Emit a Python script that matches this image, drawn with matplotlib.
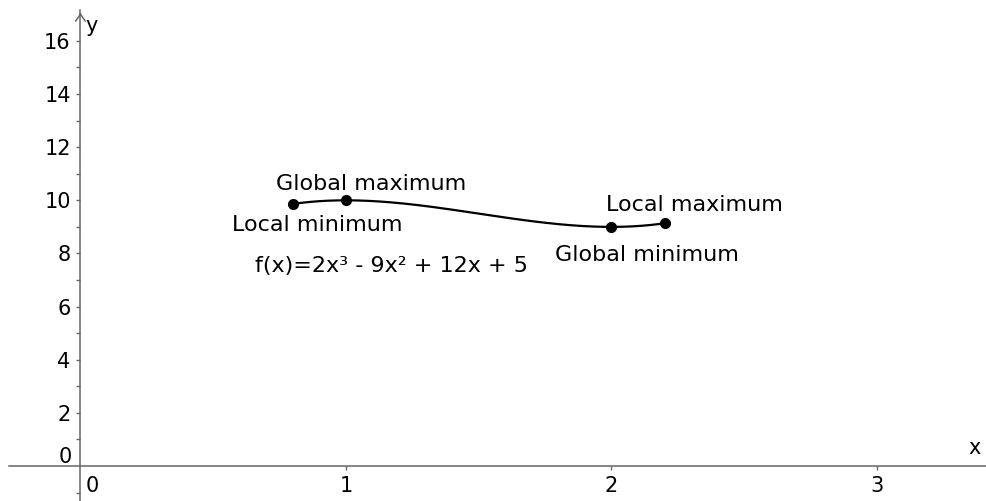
import numpy as np
import matplotlib.pyplot as plt

# f(x) = 2x^3 - 9x^2 + 12x + 5 on [0.8, 2.2]
coeffs = [2, -9, 12, 5]
domain = (0.8, 2.2)
point_x = [0.8, 1.0, 2.0, 2.2]
point_labels = ["Local minimum", "Global maximum", "Global minimum", "Local maximum"]
# label offsets in pixels (dx, dy) from each point, baseline aligned
label_offsets = [(24, -27), (25, 10), (36, -34), (30, 12)]

x_major = [1, 2, 3]
y_major = [2, 4, 6, 8, 10, 12, 14, 16]
y_minor = [-1, 1, 3, 5, 7, 9, 11, 13, 15]

axis_color = "#666666"
fs = 16
tick_fs = 15

fig = plt.figure(figsize=(9.86, 5.01), dpi=100)
ax = fig.add_axes([0, 0, 1, 1])
ax.set_xlim(-0.303, 3.411)
ax.set_ylim(-1.317, 17.54)

# axes through the origin
for s in ["top", "right"]:
    ax.spines[s].set_visible(False)
ax.spines["left"].set_position(("data", 0))
ax.spines["bottom"].set_position(("data", 0))
ax.spines["left"].set_bounds(-1.317, 17.16)
ax.spines["bottom"].set_bounds(-0.27, 3.42)
for s in ["left", "bottom"]:
    ax.spines[s].set_color(axis_color)
    ax.spines[s].set_linewidth(1.1)

ax.set_xticks(x_major)
ax.set_yticks(y_major)
ax.set_yticks(y_minor, minor=True)
ax.tick_params(axis="both", which="both", colors=axis_color, labelcolor="black",
               labelsize=tick_fs, direction="out", length=3, width=1)
ax.tick_params(axis="x", pad=4)
ax.tick_params(axis="y", pad=4)

# arrow heads
ax.annotate("", xy=(0, 17.16), xytext=(0, 16.9),
            arrowprops=dict(arrowstyle="->,head_length=0.5,head_width=0.35",
                            color=axis_color, lw=1.1))
ax.annotate("", xy=(3.425, 0), xytext=(3.38, 0),
            arrowprops=dict(arrowstyle="->,head_length=0.5,head_width=0.35",
                            color=axis_color, lw=1.1))

# origin labels and axis names
ax.annotate("0", xy=(0, 0), xytext=(-15, 9), textcoords="offset pixels",
            fontsize=tick_fs, ha="center", va="center")
ax.annotate("0", xy=(0, 0), xytext=(12, -20), textcoords="offset pixels",
            fontsize=tick_fs, ha="center", va="center")
ax.annotate("x", xy=(3.411, 0), xytext=(-11, 12), textcoords="offset pixels",
            fontsize=tick_fs, ha="center", va="baseline")
ax.annotate("y", xy=(0, 17.16), xytext=(11, -22), textcoords="offset pixels",
            fontsize=tick_fs, ha="center", va="baseline")

# curve
xs = np.linspace(domain[0], domain[1], 300)
ax.plot(xs, np.polyval(coeffs, xs), color="black", lw=1.6, solid_capstyle="round")

# special points
py = np.polyval(coeffs, point_x)
ax.plot(point_x, py, "o", color="black", ms=7)
for x, y, lab, (dx, dy) in zip(point_x, py, point_labels, label_offsets):
    ax.annotate(lab, xy=(x, y), xytext=(dx, dy), textcoords="offset pixels",
                fontsize=fs, ha="center", va="baseline")

ax.annotate("f(x)=2x³ - 9x² + 12x + 5", xy=(point_x[0], py[0]), xytext=(-38, -68),
            textcoords="offset pixels", fontsize=fs, ha="left", va="baseline")

fig.savefig("out.png", dpi=100)
